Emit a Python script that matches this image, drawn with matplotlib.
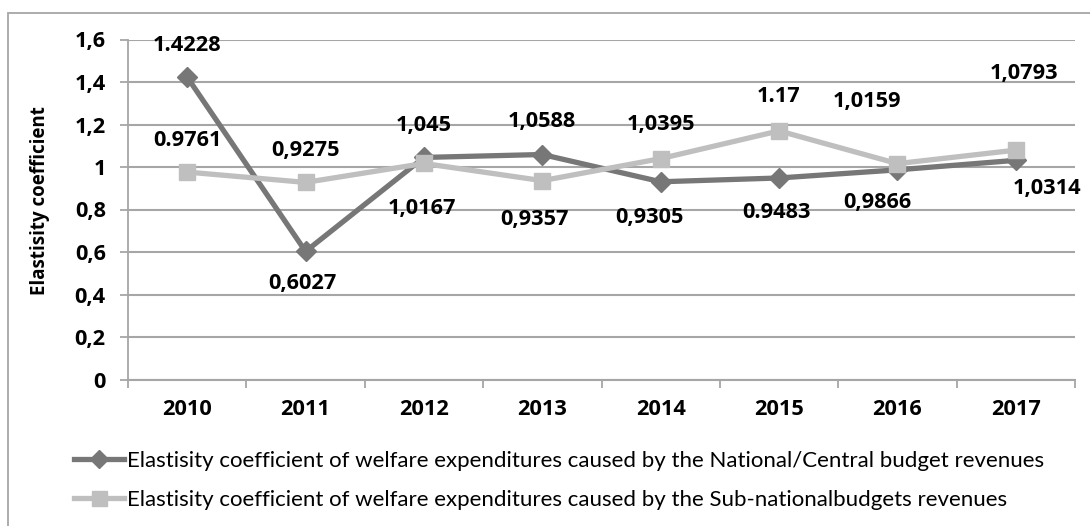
import numpy as np
import matplotlib
matplotlib.use('Agg')
import matplotlib.pyplot as plt
from matplotlib.patches import Rectangle

# Data
years = ['2010', '2011', '2012', '2013', '2014', '2015', '2016', '2017']
national = [1.4228, 0.6027, 1.045, 1.0588, 0.9305, 0.9483, 0.9866, 1.0314]
national_labels = ['1.4228', '0,6027', '1,045', '1,0588', '0,9305', '0.9483', '0,9866', '1,0314']
subnational = [0.9761, 0.9275, 1.0167, 0.9357, 1.0395, 1.17, 1.0159, 1.0793]
subnational_labels = ['0.9761', '0,9275', '1,0167', '0,9357', '1,0395', '1.17', '1,0159', '1,0793']
yticks = [0, 0.2, 0.4, 0.6, 0.8, 1.0, 1.2, 1.4, 1.6]
ytick_labels = ['0', '0,2', '0,4', '0,6', '0,8', '1', '1,2', '1,4', '1,6']
legend_labels = [
    'Elastisity coefficient of welfare expenditures caused by the National/Central budget revenues',
    'Elastisity coefficient of welfare expenditures caused by the Sub-nationalbudgets revenues',
]

# label offsets in pixels (dx, dy)
national_off = [(0, 32), (-3, -32), (0, 32), (0, 33), (-11, -36), (-3, -35), (-20, -33), (31, -28)]
subnational_off = [(0, 32), (0, 32), (-2, -45), (-8, -39), (0, 34), (0, 34), (-30, 62), (8, 77)]

dark = '#777777'
light = '#bfbfbf'
grid_c = '#a6a6a6'
bold_font = ['Open Sans', 'DejaVu Sans']
fs = 15.7

plt.rcParams['font.family'] = ['Lato', 'DejaVu Sans']

fig = plt.figure(figsize=(10.9, 5.26), dpi=100)
ax = fig.add_axes([128 / 1090, 1 - 379.5 / 526, 947 / 1090, 340 / 526])

# outer chart border (only left and top visible)
fig.patches.append(Rectangle((8 / 1090, -0.2), 1.2, 1.2 - 13 / 526,
                             transform=fig.transFigure, fill=False,
                             edgecolor=grid_c, linewidth=1.3))

x = np.arange(len(years))
ax.plot(x, national, color=dark, linewidth=3.8, marker='D', markersize=10,
        label=legend_labels[0], zorder=3)
ax.plot(x, subnational, color=light, linewidth=3.8, marker='s', markersize=12,
        label=legend_labels[1], zorder=4)

for xi, v, lab, off in zip(x, national, national_labels, national_off):
    ax.annotate(lab, (xi, v), xytext=off, textcoords='offset pixels',
                ha='center', va='center', fontsize=fs, fontweight='bold',
                family=bold_font)
for xi, v, lab, off in zip(x, subnational, subnational_labels, subnational_off):
    ax.annotate(lab, (xi, v), xytext=off, textcoords='offset pixels',
                ha='center', va='center', fontsize=fs, fontweight='bold',
                family=bold_font)

ax.set_xlim(-0.5, len(years) - 0.5)
ax.set_ylim(0, 1.6)
ax.set_yticks(yticks)
ax.set_yticklabels(ytick_labels, fontsize=fs, fontweight='bold', family=bold_font)
ax.set_xticks(x)
ax.set_xticklabels(years, fontsize=fs, fontweight='bold', family=bold_font)
ax.set_xticks(np.arange(-0.5, len(years)), minor=True)
ax.tick_params(axis='x', which='major', length=0, pad=14)
ax.tick_params(axis='x', which='minor', length=6, width=1.3, color=grid_c)
ax.tick_params(axis='y', length=6, width=1.3, color=grid_c, pad=10)

ax.grid(axis='y', color=grid_c, linewidth=1.5)
ax.set_axisbelow(True)
for s in ['top', 'right']:
    ax.spines[s].set_visible(False)
ax.spines['left'].set_color(grid_c)
ax.spines['left'].set_linewidth(1.3)
ax.spines['bottom'].set_color(grid_c)
ax.spines['bottom'].set_linewidth(1.5)

ax.set_ylabel('Elastisity coefficient', fontsize=13.5, fontweight='bold',
              family=bold_font)
ax.yaxis.set_label_coords(-0.082, 0.525)

ax.legend(loc='upper left', bbox_to_anchor=(74 / 1090, 1 - 451 / 526),
          bbox_transform=fig.transFigure, frameon=False, fontsize=16,
          handlelength=2.25, handletextpad=0.12, labelspacing=0.85,
          borderaxespad=0, borderpad=0, markerscale=0.9)

fig.savefig('out.png', dpi=100)
